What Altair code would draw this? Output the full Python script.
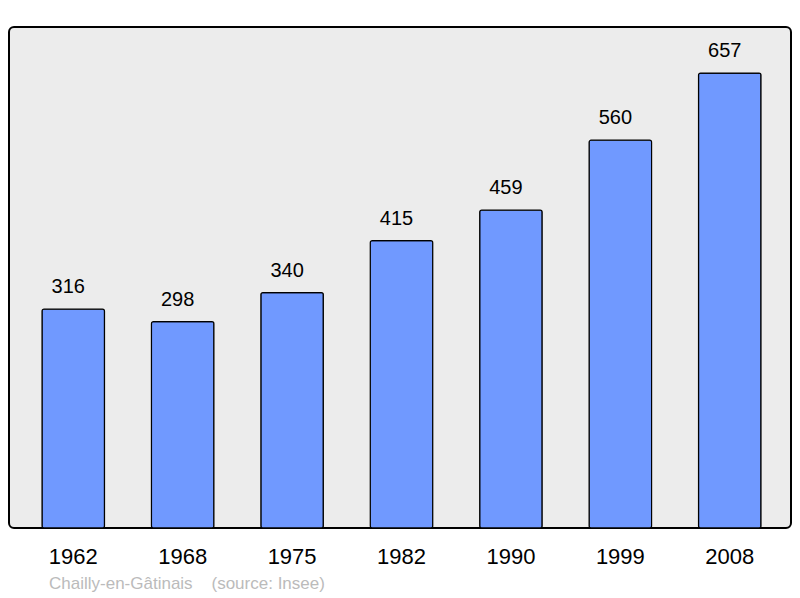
import altair as alt
import pandas as pd

years = ["1962", "1968", "1975", "1982", "1990", "1999", "2008"]
population = [316, 298, 340, 415, 459, 560, 657]

df = pd.DataFrame({"year": years, "pop": population})

FONT = "Liberation Sans"
SP = "\u00a0" * 4

x = alt.X("year:N", sort=years, title=None,
          scale=alt.Scale(paddingInner=0.429, paddingOuter=0.288, align=0.524),
          axis=alt.Axis(domain=False, ticks=False, labelAngle=0, labelFontSize=22,
                        labelFont=FONT, labelColor="#000", labelPadding=18))
y = alt.Y("pop:Q", title=None, scale=alt.Scale(domain=[0, 723.5], nice=False, zero=True),
          axis=None)

bars = alt.Chart(df).mark_bar(color="#7099ff", stroke="#000", strokeWidth=1.2,
                              cornerRadius=2).encode(x=x, y=y)
labels = alt.Chart(df).mark_text(dy=-22, dx=-5, fontSize=20, font=FONT, color="#000").encode(
    x=x, y=y, text="pop:Q")

chart = (bars + labels).properties(
    width=782, height=501,
    padding={"left": 1, "top": 19, "right": 1, "bottom": 66},
    autosize=alt.AutoSizeParams(type="none"),
    title=alt.TitleParams(f"Chailly-en-Gâtinais{SP}(source: Insee)", orient="bottom",
                          anchor="start", dx=40, offset=9, fontSize=17, font=FONT,
                          fontWeight="normal", color="#bbbbbb"),
).configure(background="white").configure_view(
    fill="#ececec", stroke="#000", strokeWidth=2, cornerRadius=5)

chart.save("out.html", embed_options={"renderer": "svg", "actions": False})
